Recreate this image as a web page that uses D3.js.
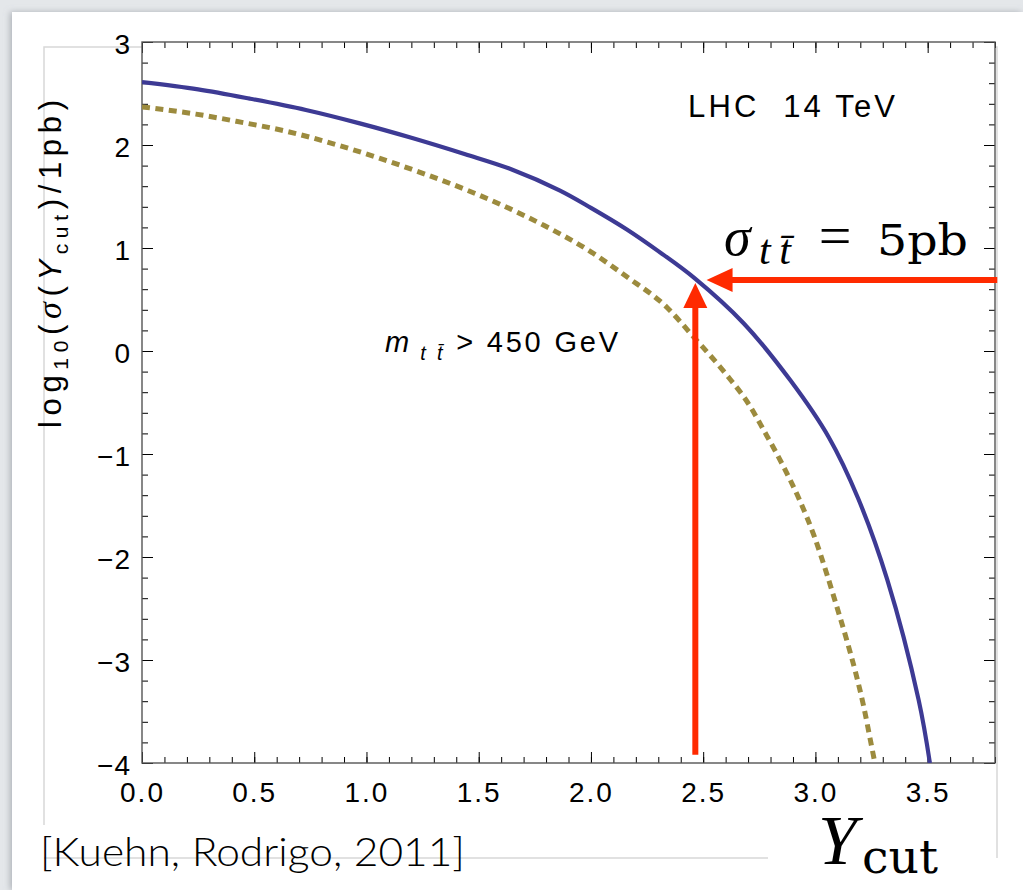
<!DOCTYPE html>
<html>
<head>
<meta charset="utf-8">
<script src="https://cdn.jsdelivr.net/npm/d3@7"></script>
<style>
html, body { margin: 0; padding: 0; background: #e4e7ea; }
svg { display: block; }
text { font-family: "Liberation Sans", Arial, Helvetica, sans-serif; fill: #000; }
</style>
</head>
<body>
<svg width="1023" height="890"></svg>
<script>
// log10(sigma(Ycut)/1pb) vs Ycut, LHC 14 TeV
var fullYcut = [0, 0.25, 0.48, 0.73, 0.97, 1.2, 1.44, 1.65, 1.86, 2.0, 2.16, 2.3, 2.46, 2.68, 2.89, 3.06, 3.19, 3.32, 3.46, 3.51];
var fullSigma = [2.61, 2.54, 2.45, 2.34, 2.21, 2.07, 1.91, 1.76, 1.56, 1.39, 1.18, 0.97, 0.71, 0.27, -0.29, -0.84, -1.43, -2.22, -3.39, -4.0];

// with m_tt > 450 GeV
var mcutYcut = [0, 0.24, 0.42, 0.65, 0.87, 1.06, 1.27, 1.45, 1.6, 1.79, 1.98, 2.16, 2.34, 2.46, 2.6, 2.71, 2.77, 2.855, 2.93, 2.995, 3.05, 3.095, 3.14, 3.18, 3.215, 3.245, 3.265];
var mcutSigma = [2.37, 2.30, 2.23, 2.13, 2.0, 1.87, 1.71, 1.56, 1.42, 1.22, 0.99, 0.72, 0.42, 0.13, -0.22, -0.54, -0.77, -1.11, -1.45, -1.80, -2.16, -2.48, -2.81, -3.13, -3.45, -3.78, -4.0];

var xMajor = [0, 0.5, 1.0, 1.5, 2.0, 2.5, 3.0, 3.5];
var yMajor = [-4, -3, -2, -1, 0, 1, 2, 3];

// sigma = 5pb arrows (data coords)
var arrowSigma = 0.69, arrowYcut = 2.465;

var svg = d3.select("svg"),
    W = +svg.attr("width"),
    H = +svg.attr("height");

var x = d3.scaleLinear().domain([0, 3.8]).range([142, 995]);
var y = d3.scaleLinear().domain([-4, 3]).range([763, 42]);

var defs = svg.append("defs");
var sh = defs.append("filter").attr("id", "shadow").attr("x", "-5%").attr("y", "-5%").attr("width", "110%").attr("height", "110%");
sh.append("feDropShadow").attr("dx", -2).attr("dy", 0).attr("stdDeviation", 3)
  .attr("flood-color", "#8a8f96").attr("flood-opacity", 0.6);
defs.append("clipPath").attr("id", "plotclip").append("rect")
  .attr("x", 142).attr("y", 42).attr("width", 853).attr("height", 721);

// card and slide frame
svg.append("rect").attr("x", 12).attr("y", 12).attr("width", W - 12).attr("height", H - 12)
  .attr("fill", "#fff").attr("filter", "url(#shadow)");
svg.append("path")
  .attr("d", "M44,825V47H997V858M768,858H44")
  .attr("fill", "none").attr("stroke", "#d8d8d8").attr("stroke-width", 1.5);

// plot area
svg.append("rect").attr("x", 142).attr("y", 42).attr("width", 853).attr("height", 721).attr("fill", "#fff");

// ticks: all four sides, inward
function ticks(gen, pos, vals, size, fmt) {
  var g = svg.append("g").attr("transform", pos)
    .call(gen.tickValues(vals).tickSize(size).tickPadding(0).tickFormat(fmt || ""));
  g.select(".domain").remove();
  g.selectAll("line").attr("stroke", "#000").attr("stroke-width", 1);
  return g;
}
var xMinor = d3.range(0, 3.81, 0.1), yMinor = d3.range(-4, 3.01, 0.2);
ticks(d3.axisBottom(x), "translate(0,763)", xMinor, -6);
ticks(d3.axisTop(x), "translate(0,42)", xMinor, -6);
ticks(d3.axisLeft(y), "translate(142,0)", yMinor, -6);
ticks(d3.axisRight(y), "translate(995,0)", yMinor, -6);
ticks(d3.axisTop(x), "translate(0,42)", xMajor, -11);
ticks(d3.axisRight(y), "translate(995,0)", yMajor, -11);

var gx = ticks(d3.axisBottom(x), "translate(0,763)", xMajor, -11, d3.format(".1f"));
gx.selectAll("text").attr("y", 19).style("font-size", "28px").style("letter-spacing", "2px")
  .style("font-family", "'Liberation Sans', Arial, sans-serif").attr("fill", "#000");
var gy = ticks(d3.axisLeft(y), "translate(142,0)", yMajor, -11, d3.format("d"));
gy.selectAll("text").attr("x", -11).attr("dy", "0.42em").style("font-size", "28px").style("letter-spacing", "1px")
  .style("font-family", "'Liberation Sans', Arial, sans-serif").attr("fill", "#000");

svg.append("rect").attr("x", 142).attr("y", 42).attr("width", 853).attr("height", 721)
  .attr("fill", "none").attr("stroke", "#555").attr("stroke-width", 1.4);

// curves
var line = d3.line().x(function(d) { return x(d[0]); }).y(function(d) { return y(d[1]); });
var curves = svg.append("g").attr("clip-path", "url(#plotclip)");
curves.append("path").datum(d3.zip(mcutYcut, mcutSigma))
  .attr("d", line.curve(d3.curveMonotoneX)).attr("fill", "none").attr("stroke", "#9c8b3e")
  .attr("stroke-width", 5).attr("stroke-dasharray", "8,5.5");
curves.append("path").datum(d3.zip(fullYcut, fullSigma))
  .attr("d", line.curve(d3.curveCatmullRom.alpha(0.5))).attr("fill", "none").attr("stroke", "#3d3a94")
  .attr("stroke-width", 4.2).attr("stroke-linejoin", "round");

// arrows
var red = "#ff2a00";
var hy = y(arrowSigma), hx0 = x(3.81), hx1 = x(2.515);
svg.append("line").attr("x1", hx0).attr("y1", hy).attr("x2", hx1 + 20).attr("y2", hy)
  .attr("stroke", red).attr("stroke-width", 6);
svg.append("path").attr("d", "M" + hx1 + "," + hy + "l26,-12v24z").attr("fill", red);
var vx = x(arrowYcut), vy0 = y(-3.92), vy1 = y(0.66);
svg.append("line").attr("x1", vx).attr("y1", vy0).attr("x2", vx).attr("y2", vy1 + 20)
  .attr("stroke", red).attr("stroke-width", 6);
svg.append("path").attr("d", "M" + vx + "," + vy1 + "l-12,25h24z").attr("fill", red);

// labels
svg.append("text").attr("x", 688).attr("y", 117).style("font-size", "31px")
  .style("white-space", "pre").attr("textLength", 207).attr("lengthAdjust", "spacing")
  .text("LHC  14 TeV");

var mt = svg.append("text").attr("x", 385).attr("y", 352).style("font-size", "29px")
  .attr("textLength", 233).attr("lengthAdjust", "spacing");
mt.append("tspan").style("font-style", "italic").text("m");
mt.append("tspan").attr("dy", 8).style("font-style", "italic").style("font-size", "20px").text(" t t\u0304");
mt.append("tspan").attr("dy", -8).text(" > 450 GeV");

var serif = "'Liberation Serif', 'DejaVu Serif', serif";
var wide = "'DejaVu Serif', 'Liberation Serif', serif";
svg.append("text").attr("x", 724).attr("y", 255).style("font-family", serif).style("font-style", "italic")
  .style("font-size", "54px").text("σ");
svg.append("text").attr("x", 759).attr("y", 264).style("font-family", serif).style("font-style", "italic")
  .style("font-size", "42px").attr("textLength", 32).attr("lengthAdjust", "spacing").text("tt\u0304");
svg.append("text").attr("x", 835).attr("y", 255).attr("text-anchor", "middle").style("font-family", serif)
  .style("font-size", "58px").text("=");
svg.append("text").attr("x", 877).attr("y", 255).style("font-family", wide)
  .style("font-size", "42px").attr("textLength", 91).attr("lengthAdjust", "spacingAndGlyphs").text("5pb");

// y axis title
var yl = svg.append("text").attr("transform", "translate(61,428) rotate(-90)")
  .style("font-size", "31px").attr("textLength", 328).attr("lengthAdjust", "spacing");
yl.append("tspan").text("log");
yl.append("tspan").attr("dy", 7).style("font-size", "21px").text("10");
yl.append("tspan").attr("dy", -7).text("(");
yl.append("tspan").style("font-family", serif).style("font-style", "italic").style("font-size", "34px").text("σ");
yl.append("tspan").text("(");
yl.append("tspan").style("font-style", "italic").text("Y");
yl.append("tspan").attr("dy", 7).style("font-size", "21px").text("cut");
yl.append("tspan").attr("dy", -7).text(")/1pb)");

// x axis title
svg.append("rect").attr("x", 768).attr("y", 806).attr("width", 182).attr("height", 84).attr("fill", "#fff");
svg.append("text").attr("x", 818).attr("y", 864).style("font-family", serif).style("font-style", "italic")
  .style("font-size", "70px").text("Y");
svg.append("text").attr("x", 862).attr("y", 873).style("font-family", wide)
  .style("font-size", "46px").attr("textLength", 76).attr("lengthAdjust", "spacingAndGlyphs").text("cut");

// citation
svg.append("text").attr("x", 40).attr("y", 866)
  .style("font-family", "Lato, 'Open Sans', sans-serif").style("font-weight", 300)
  .style("font-size", "40px").attr("fill", "#222")
  .attr("textLength", 425).attr("lengthAdjust", "spacingAndGlyphs")
  .text("[Kuehn, Rodrigo, 2011]");
</script>
</body>
</html>
